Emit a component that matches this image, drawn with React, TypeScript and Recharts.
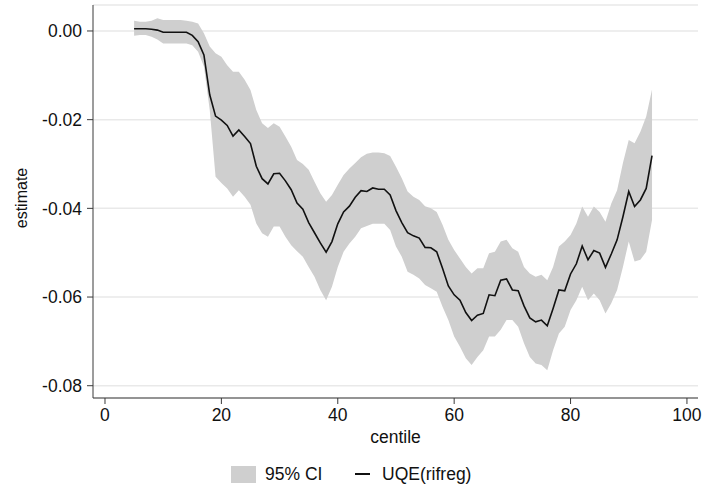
import React from 'react';
import { ComposedChart, Area, Line, XAxis, YAxis, CartesianGrid } from 'recharts';

const centiles: number[] = Array.from({ length: 90 }, (_, i) => i + 5);

const estimate: number[] = [
  0.0005, 0.0005, 0.0005, 0.0004, 0.0002, -0.0003, -0.0003, -0.0003, -0.0003, -0.0003,
  -0.0010, -0.0024, -0.0054, -0.0144, -0.0192, -0.0201, -0.0213, -0.0237, -0.0223, -0.0238,
  -0.0254, -0.0305, -0.0333, -0.0345, -0.0322, -0.0321, -0.0338, -0.0358, -0.0388, -0.0402,
  -0.0432, -0.0455, -0.0478, -0.0499, -0.0475, -0.0435, -0.0408, -0.0395, -0.0375, -0.0360,
  -0.0362, -0.0354, -0.0357, -0.0357, -0.0370, -0.0405, -0.0432, -0.0455, -0.0462, -0.0467,
  -0.0488, -0.0489, -0.0498, -0.0535, -0.0575, -0.0595, -0.0607, -0.0635, -0.0653, -0.0641,
  -0.0637, -0.0595, -0.0597, -0.0562, -0.0559, -0.0584, -0.0586, -0.0620, -0.0647, -0.0656,
  -0.0652, -0.0665, -0.0626, -0.0584, -0.0586, -0.0548, -0.0525, -0.0485, -0.0516, -0.0495,
  -0.0501, -0.0533, -0.0503, -0.0471, -0.0419, -0.0362, -0.0396, -0.0381, -0.0355, -0.0281,
];

const ciUpper: number[] = [
  0.0023, 0.0021, 0.0021, 0.0023, 0.0029, 0.0025, 0.0025, 0.0025, 0.0025, 0.0023,
  0.0021, 0.0017, -0.0005, -0.0035, -0.0050, -0.0058, -0.0077, -0.0092, -0.0092, -0.0110,
  -0.0133, -0.0178, -0.0208, -0.0219, -0.0208, -0.0216, -0.0238, -0.0261, -0.0291, -0.0300,
  -0.0313, -0.0340, -0.0366, -0.0385, -0.0370, -0.0347, -0.0325, -0.0310, -0.0298, -0.0285,
  -0.0277, -0.0274, -0.0274, -0.0276, -0.0282, -0.0306, -0.0332, -0.0362, -0.0374, -0.0381,
  -0.0395, -0.0400, -0.0408, -0.0437, -0.0471, -0.0494, -0.0513, -0.0532, -0.0547, -0.0535,
  -0.0535, -0.0501, -0.0498, -0.0475, -0.0471, -0.0490, -0.0498, -0.0532, -0.0547, -0.0554,
  -0.0550, -0.0562, -0.0532, -0.0486, -0.0475, -0.0460, -0.0434, -0.0396, -0.0419, -0.0396,
  -0.0408, -0.0430, -0.0389, -0.0359, -0.0298, -0.0246, -0.0253, -0.0227, -0.0193, -0.0132,
];

const ciLower: number[] = [
  -0.0011, -0.0009, -0.0009, -0.0013, -0.0019, -0.0028, -0.0028, -0.0028, -0.0028, -0.0028,
  -0.0032, -0.0047, -0.0080, -0.0178, -0.0329, -0.0343, -0.0355, -0.0374, -0.0359, -0.0374,
  -0.0392, -0.0434, -0.0456, -0.0464, -0.0441, -0.0441, -0.0464, -0.0483, -0.0497, -0.0509,
  -0.0532, -0.0554, -0.0584, -0.0607, -0.0577, -0.0532, -0.0498, -0.0479, -0.0464, -0.0445,
  -0.0440, -0.0435, -0.0435, -0.0435, -0.0449, -0.0486, -0.0509, -0.0543, -0.0550, -0.0558,
  -0.0573, -0.0580, -0.0588, -0.0622, -0.0652, -0.0689, -0.0712, -0.0738, -0.0753, -0.0735,
  -0.0720, -0.0689, -0.0689, -0.0674, -0.0652, -0.0652, -0.0667, -0.0704, -0.0735, -0.0750,
  -0.0753, -0.0765, -0.0720, -0.0682, -0.0667, -0.0629, -0.0607, -0.0577, -0.0607, -0.0592,
  -0.0607, -0.0637, -0.0614, -0.0584, -0.0532, -0.0475, -0.0520, -0.0516, -0.0498, -0.0426,
];

const xTicks: number[] = [0, 20, 40, 60, 80, 100];
const yTicks: number[] = [0, -0.02, -0.04, -0.06, -0.08];

const data = centiles.map((c, i) => ({
  centile: c,
  est: estimate[i],
  ci: [ciLower[i], ciUpper[i]] as [number, number],
}));

const FONT = '"Liberation Sans", Arial, Helvetica, sans-serif';
const AXIS = '#3a3a3a';

export default function App() {
  return (
    <div style={{ position: 'absolute', left: 0, top: 0, width: 704, height: 489, background: '#fff', fontFamily: FONT }}>
      <ComposedChart width={704} height={489} data={data} margin={{ top: 5, right: 6, left: 0, bottom: 51 }}>
        <CartesianGrid horizontal vertical={false} stroke="#e9e9e9" strokeWidth={1.5} />
        <XAxis
          dataKey="centile"
          type="number"
          domain={[-2.06, 101.9]}
          ticks={xTicks}
          allowDataOverflow
          height={40}
          tickSize={6}
          tickMargin={5}
          stroke={AXIS}
          tick={{ fill: '#111', fontSize: 17.5, fontFamily: FONT }}
          label={{
            content: () => (
              <text x={395.5} y={437} textAnchor="middle" dominantBaseline="central" fill="#111" fontSize={17.5} fontFamily={FONT}>
                centile
              </text>
            ),
          }}
        />
        <YAxis
          type="number"
          domain={[-0.08277, 0.00586]}
          ticks={yTicks}
          allowDataOverflow
          width={93}
          tickSize={6}
          tickMargin={5}
          stroke={AXIS}
          tickFormatter={(v: number) => v.toFixed(2)}
          tick={{ fill: '#111', fontSize: 17.5, fontFamily: FONT }}
          label={{
            content: () => (
              <text x={21} y={198} transform="rotate(-90 21 198)" textAnchor="middle" dominantBaseline="central" fill="#111" fontSize={16} fontFamily={FONT}>
                estimate
              </text>
            ),
          }}
        />
        <Area
          type="linear"
          dataKey="ci"
          stroke="none"
          fill="#cfcfcf"
          fillOpacity={1}
          isAnimationActive={false}
          activeDot={false}
        />
        <Line
          type="linear"
          dataKey="est"
          stroke="#111"
          strokeWidth={1.6}
          dot={false}
          activeDot={false}
          isAnimationActive={false}
        />
      </ComposedChart>
      <div style={{ position: 'absolute', left: 231, top: 466, width: 25, height: 17, background: '#cfcfcf' }} />
      <div style={{ position: 'absolute', left: 265, top: 464, fontSize: 17.5, lineHeight: '20px', color: '#111' }}>95% CI</div>
      <div style={{ position: 'absolute', left: 355, top: 473, width: 15, height: 1.6, background: '#111' }} />
      <div style={{ position: 'absolute', left: 382, top: 464, fontSize: 17.5, lineHeight: '20px', color: '#111' }}>UQE(rifreg)</div>
    </div>
  );
}
